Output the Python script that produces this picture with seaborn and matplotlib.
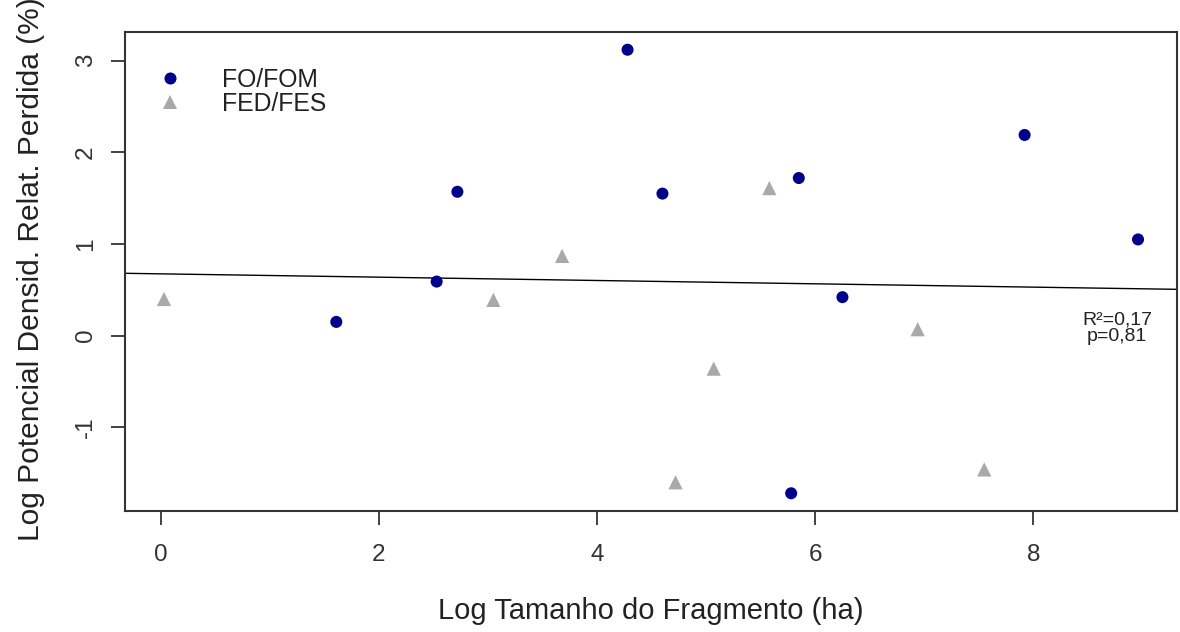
import matplotlib
matplotlib.use("Agg")
import matplotlib.pyplot as plt
import seaborn as sns
import pandas as pd
import numpy as np

# log fragment size and log potential density lost
fo_x = [1.61, 2.53, 2.72, 4.28, 4.60, 5.85, 6.25, 5.78, 7.92, 8.96]
fo_y = [0.15, 0.59, 1.57, 3.12, 1.55, 1.72, 0.42, -1.72, 2.19, 1.05]
fed_x = [0.03, 3.05, 3.68, 4.72, 5.07, 5.58, 6.94, 7.55]
fed_y = [0.40, 0.39, 0.87, -1.60, -0.36, 1.61, 0.07, -1.46]
groups = ["FO/FOM", "FED/FES"]
stats_text = "R²=0,17\np=0,81"

df = pd.DataFrame({
    "x": fo_x + fed_x,
    "y": fo_y + fed_y,
    "grupo": [groups[0]] * len(fo_x) + [groups[1]] * len(fed_x),
})

sns.set_style("white")
plt.rcParams['font.family'] = ['Liberation Sans', 'DejaVu Sans']
plt.rcParams['axes.unicode_minus'] = False

fig = plt.figure(figsize=(11.8, 6.32), dpi=100)
ax = fig.add_axes([125/1180, 1 - 511/632, (1177-125)/1180, (511-32)/632])

# R-style 4% padding
xr = df["x"].max() - df["x"].min()
yr = df["y"].max() - df["y"].min()
ax.set_xlim(df["x"].min() - 0.04*xr, df["x"].max() + 0.04*xr)
ax.set_ylim(df["y"].min() - 0.04*yr, df["y"].max() + 0.04*yr)

sns.scatterplot(data=df, x="x", y="y", hue="grupo", style="grupo", size="grupo",
                palette={groups[0]: "#00008B", groups[1]: "#A9A9A9"},
                markers={groups[0]: "o", groups[1]: "^"},
                sizes={groups[0]: 75, groups[1]: 105},
                linewidth=0, ax=ax, zorder=3)

sns.regplot(data=df, x="x", y="y", scatter=False, ci=None, truncate=False,
            line_kws={"color": "black", "linewidth": 1.0}, ax=ax)

ax.set_xticks([0, 2, 4, 6, 8])
ax.set_yticks([-1, 0, 1, 2, 3])
ax.tick_params(axis="both", direction="out", length=10, width=1.2,
               labelsize=17.5, color="#222222", labelcolor="#333333",
               bottom=True, left=True, pad=14)
ax.tick_params(axis="y", pad=10)
for lab in ax.get_yticklabels():
    lab.set_rotation(90)
    lab.set_va("center")

for sp in ax.spines.values():
    sp.set_color("#333333")
    sp.set_linewidth(1.5)

ax.set_xlabel("Log Tamanho do Fragmento (ha)", fontsize=21, color="#222222", labelpad=22)
ax.set_ylabel("Log Potencial Densid. Relat. Perdida (%)", fontsize=21.5, color="#222222")
ax.yaxis.set_label_coords(-0.0765, 0.505)

ax.text(8.77, 0.08, stats_text, ha="center", va="center", fontsize=14,
        color="#222222", linespacing=0.95)

leg = ax.legend(loc="upper left", bbox_to_anchor=(0.0099, 0.946), frameon=False,
                fontsize=17.8, handletextpad=1.1, labelspacing=0.0,
                borderaxespad=0.0, markerscale=1.0)
for t in leg.get_texts():
    t.set_color("#222222")

fig.savefig("out.png", dpi=100)
